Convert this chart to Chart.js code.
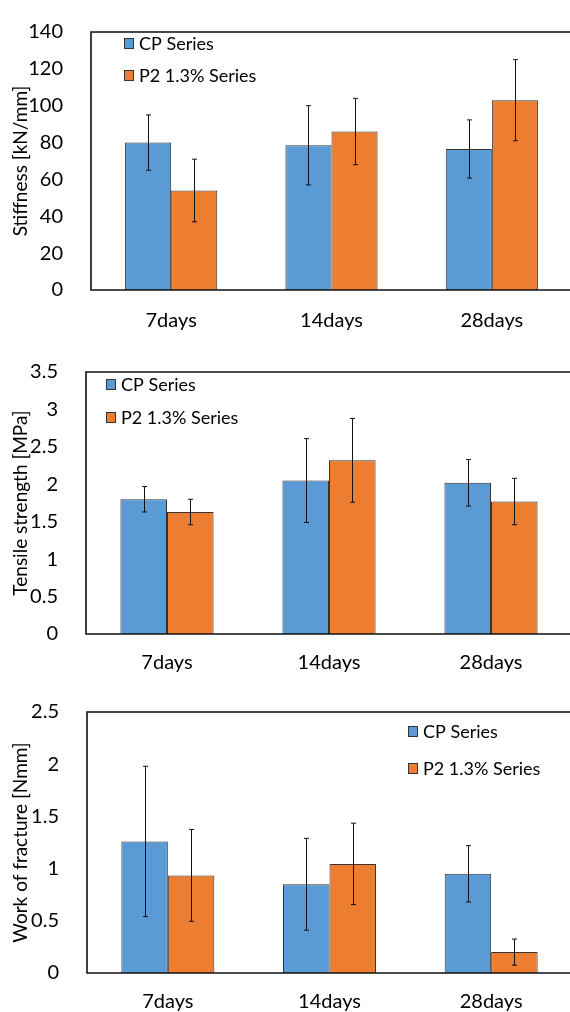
<!DOCTYPE html>
<html>
<head>
<meta charset="utf-8">
<script src="https://cdn.jsdelivr.net/npm/chart.js@4.4.1/dist/chart.umd.min.js"></script>
<style>
  html, body { margin: 0; padding: 0; background: #fff; overflow: hidden; width: 570px; height: 1012px; }
  .box { position: absolute; left: 0; width: 575px; }
</style>
</head>
<body>
<div class="box" style="top:0"><canvas id="stiffChart" width="575" height="340"></canvas></div>
<div class="box" style="top:340px"><canvas id="tensileChart" width="575" height="340"></canvas></div>
<div class="box" style="top:680px"><canvas id="wofChart" width="575" height="332"></canvas></div>
<script>
const categories = ['7days', '14days', '28days'];
const seriesNames = ['CP Series', 'P2 1.3% Series'];

// Stiffness [kN/mm]
const stiffCP = [80, 78.5, 76.5];
const stiffCPErr = [15, 21.5, 15.8];
const stiffP2 = [54, 86, 103];
const stiffP2Err = [17, 18, 22];

// Tensile strength [MPa]
const tensileCP = [1.80, 2.05, 2.02];
const tensileCPErr = [0.17, 0.56, 0.31];
const tensileP2 = [1.63, 2.32, 1.77];
const tensileP2Err = [0.17, 0.56, 0.31];

// Work of fracture [Nmm]
const wofCP = [1.26, 0.85, 0.95];
const wofCPErr = [0.72, 0.44, 0.27];
const wofP2 = [0.935, 1.045, 0.2];
const wofP2Err = [0.44, 0.39, 0.125];

const BLUE = '#5b9bd5';
const ORANGE = '#ed7d31';
const FONT = "Lato, 'Open Sans', sans-serif";
const TEXT = '#000';

// error bars drawn from the dataset's err array
const errorBars = {
    id: 'errorBars',
    afterDatasetsDraw(chart) {
        const ctx = chart.ctx;
        const y = chart.scales.y;
        ctx.save();
        ctx.strokeStyle = '#111';
        ctx.lineWidth = 1;
        chart.data.datasets.forEach((ds, i) => {
            chart.getDatasetMeta(i).data.forEach((bar, j) => {
                const v = ds.data[j], e = ds.err[j];
                const x = Math.round(bar.x) + 0.5;
                const top = y.getPixelForValue(v + e);
                const bot = y.getPixelForValue(v - e);
                ctx.beginPath();
                ctx.moveTo(x, top); ctx.lineTo(x, bot);
                ctx.moveTo(x - 2.5, top); ctx.lineTo(x + 2.5, top);
                ctx.moveTo(x - 2.5, bot); ctx.lineTo(x + 2.5, bot);
                ctx.stroke();
            });
        });
        ctx.restore();
    }
};

// plot frame (top, left, bottom) plus the legend inside the plot
const frameLegend = {
    id: 'frameLegend',
    afterDraw(chart, args, opts) {
        const ctx = chart.ctx;
        const a = chart.chartArea;
        ctx.save();
        ctx.strokeStyle = '#111';
        ctx.lineWidth = 1.6;
        ctx.beginPath();
        ctx.moveTo(a.right + 5, a.top);
        ctx.lineTo(a.left, a.top);
        ctx.lineTo(a.left, a.bottom);
        ctx.lineTo(a.right + 5, a.bottom);
        ctx.stroke();

        ctx.font = '18px ' + FONT;
        ctx.textBaseline = 'middle';
        chart.data.datasets.forEach((ds, i) => {
            const yy = opts.y + i * opts.gap;
            ctx.fillStyle = ds.backgroundColor;
            ctx.fillRect(opts.x, yy - 5, 10, 11);
            ctx.strokeStyle = '#333';
            ctx.lineWidth = 1;
            ctx.strokeRect(opts.x + 0.5, yy - 4.5, 9, 10);
            ctx.fillStyle = TEXT;
            ctx.fillText(ds.label, opts.x + 15, yy + 1);
        });
        ctx.restore();
    }
};

function makeChart(id, cp, cpErr, p2, p2Err, cfg) {
    return new Chart(document.getElementById(id), {
        type: 'bar',
        data: {
            labels: categories,
            datasets: [
                { label: seriesNames[0], data: cp, err: cpErr, backgroundColor: BLUE, borderColor: '#333', borderWidth: 1 },
                { label: seriesNames[1], data: p2, err: p2Err, backgroundColor: ORANGE, borderColor: '#333', borderWidth: 1 }
            ]
        },
        options: {
            responsive: false,
            animation: false,
            layout: { padding: { top: cfg.top, right: 3, left: 0, bottom: 0 } },
            datasets: { bar: { categoryPercentage: 0.575, barPercentage: 1.0 } },
            plugins: {
                legend: { display: false },
                tooltip: { enabled: false },
                frameLegend: cfg.legend
            },
            scales: {
                x: {
                    grid: { display: false },
                    border: { display: false },
                    ticks: { color: TEXT, font: { family: FONT, size: 20 }, padding: cfg.xPad, maxRotation: 0 },
                    afterFit: s => { s.height = cfg.xHeight; }
                },
                y: {
                    min: 0, max: cfg.max,
                    grid: { display: false },
                    border: { display: false },
                    ticks: { stepSize: cfg.step, color: TEXT, font: { family: FONT, size: 20 }, padding: 20, callback: v => String(v) },
                    title: { display: true, text: cfg.title, color: TEXT, font: { family: FONT, size: 19 }, padding: { top: 9, bottom: 0 } },
                    afterFit: s => { s.width = cfg.left; }
                }
            }
        },
        plugins: [errorBars, frameLegend]
    });
}

makeChart('stiffChart', stiffCP, stiffCPErr, stiffP2, stiffP2Err, {
    top: 15, left: 91, xHeight: 50, xPad: 11, max: 140, step: 20,
    title: 'Stiffness [kN/mm]', legend: { x: 124, y: 43, gap: 32 }
});
makeChart('tensileChart', tensileCP, tensileCPErr, tensileP2, tensileP2Err, {
    top: 19, left: 86, xHeight: 46, xPad: 9, max: 3.5, step: 0.5,
    title: 'Tensile strength [MPa]', legend: { x: 106, y: 44, gap: 33 }
});
makeChart('wofChart', wofCP, wofCPErr, wofP2, wofP2Err, {
    top: 18, left: 87, xHeight: 39, xPad: 9, max: 2.5, step: 0.5,
    title: 'Work of fracture [Nmm]', legend: { x: 408, y: 51, gap: 37 }
});
</script>
</body>
</html>
